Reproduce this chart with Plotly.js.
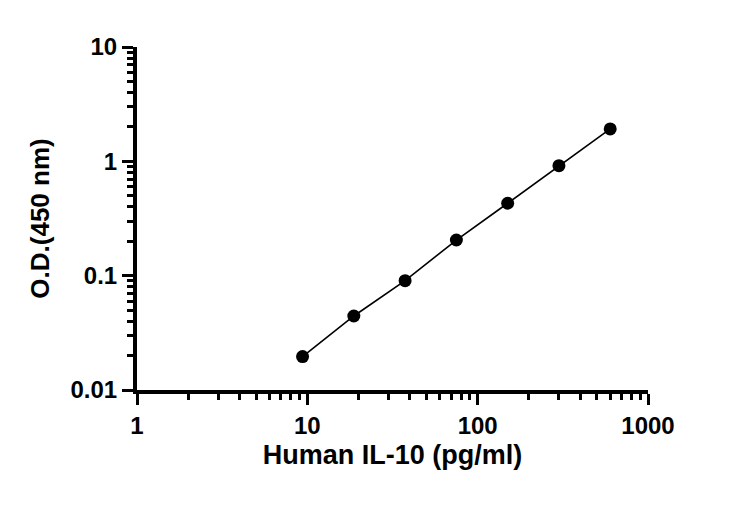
<!DOCTYPE html>
<html>
<head>
<meta charset="utf-8">
<script src="https://cdn.plot.ly/plotly-3.0.1.min.js"></script>
<style>
  html, body { margin: 0; padding: 0; background: #fff; }
  #chart { width: 730px; height: 507px; }
</style>
</head>
<body>
<div id="chart"></div>
<script>
// Standard curve readings
var concentration = [9.375, 18.75, 37.5, 75, 150, 300, 600];
var od450 = [0.0196, 0.0444, 0.0904, 0.205, 0.430, 0.917, 1.92];

var xTickVals = [1, 10, 100, 1000];
var xTickText = ['1', '10', '100', '1000'];
var yTickVals = [0.01, 0.1, 1, 10];
var yTickText = ['0.01', '0.1', '1', '10'];

var font = 'Liberation Sans, Arial, sans-serif';

var curve = {
    x: concentration,
    y: od450,
    type: 'scatter',
    mode: 'lines+markers',
    line: { color: '#000', width: 1.6 },
    marker: { color: '#000', size: 13 },
    hoverinfo: 'skip'
};

function logAxis(range, vals, text) {
    return {
        type: 'log',
        range: range,
        tickvals: vals,
        ticktext: text,
        ticks: 'outside',
        ticklen: 11,
        tickwidth: 3,
        tickcolor: '#000',
        showline: true,
        linecolor: '#000',
        linewidth: 4,
        showgrid: false,
        zeroline: false,
        minor: {
            dtick: 'D1',
            ticks: 'outside',
            ticklen: 6,
            tickwidth: 3,
            tickcolor: '#000',
            showgrid: false
        },
        tickfont: { family: font, size: 24, color: '#000', weight: 'bold' }
    };
}

var xaxis = logAxis([0, 3], xTickVals, xTickText);
xaxis.title = { text: 'Human IL-10 (pg/ml)', font: { family: font, size: 27, color: '#000', weight: 'bold' }, standoff: 8 };

var yaxis = logAxis([-2, 1], yTickVals, yTickText);
yaxis.title = { text: 'O.D.(450 nm)', font: { family: font, size: 26, color: '#000', weight: 'bold' }, standoff: 14 };

var layout = {
    width: 730,
    height: 507,
    margin: { l: 137, r: 82, t: 47, b: 117 },
    paper_bgcolor: '#fff',
    plot_bgcolor: '#fff',
    showlegend: false,
    xaxis: xaxis,
    yaxis: yaxis
};

Plotly.newPlot('chart', [curve], layout, { displayModeBar: false, staticPlot: true });
</script>
</body>
</html>
